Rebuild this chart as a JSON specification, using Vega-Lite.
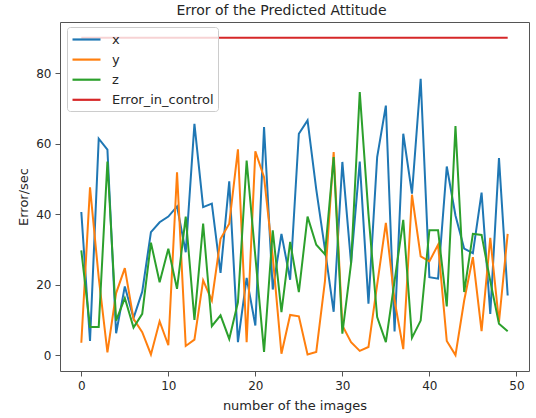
{
 "$schema": "https://vega.github.io/schema/vega-lite/v6.json",
 "width": 469,
 "height": 349,
 "autosize": {"type": "none"},
 "padding": {"left": 60, "top": 22, "right": 7, "bottom": 47},
 "background": "white",
 "title": {"text": "Error of the Predicted Attitude", "fontSize": 14, "font": "DejaVu Sans", "fontWeight": "normal", "color": "#262626", "anchor": "middle", "frame": "group", "dx": -13, "dy": 12.5, "baseline": "alphabetic", "offset": 6},
 "data": {"values": [
  {"i": 0, "x": 40.6, "y": 3.5, "z": 29.7, "Error_in_control": 90},
  {"i": 1, "x": 4.0, "y": 47.6, "z": 8.0, "Error_in_control": 90},
  {"i": 2, "x": 61.4, "y": 22, "z": 8.0, "Error_in_control": 90},
  {"i": 3, "x": 58.3, "y": 0.8, "z": 54.9, "Error_in_control": 90},
  {"i": 4, "x": 6.2, "y": 17.6, "z": 9.8, "Error_in_control": 90},
  {"i": 5, "x": 19.5, "y": 24.7, "z": 16.2, "Error_in_control": 90},
  {"i": 6, "x": 10.5, "y": 10.3, "z": 7.8, "Error_in_control": 90},
  {"i": 7, "x": 18.0, "y": 6.5, "z": 11.7, "Error_in_control": 90},
  {"i": 8, "x": 34.9, "y": 0.2, "z": 31.9, "Error_in_control": 90},
  {"i": 9, "x": 37.7, "y": 9.6, "z": 20.7, "Error_in_control": 90},
  {"i": 10, "x": 39.3, "y": 2.8, "z": 30.2, "Error_in_control": 90},
  {"i": 11, "x": 42.2, "y": 51.9, "z": 18.8, "Error_in_control": 90},
  {"i": 12, "x": 29.2, "y": 2.6, "z": 39.3, "Error_in_control": 90},
  {"i": 13, "x": 65.6, "y": 4.4, "z": 10.0, "Error_in_control": 90},
  {"i": 14, "x": 42.0, "y": 21.2, "z": 37.3, "Error_in_control": 90},
  {"i": 15, "x": 43.0, "y": 15.5, "z": 8.2, "Error_in_control": 90},
  {"i": 16, "x": 23.3, "y": 33.0, "z": 11.3, "Error_in_control": 90},
  {"i": 17, "x": 49.3, "y": 37.3, "z": 4.6, "Error_in_control": 90},
  {"i": 18, "x": 3.7, "y": 58.4, "z": 15.0, "Error_in_control": 90},
  {"i": 19, "x": 21.9, "y": 3.7, "z": 55.2, "Error_in_control": 90},
  {"i": 20, "x": 8.4, "y": 57.8, "z": 28, "Error_in_control": 90},
  {"i": 21, "x": 64.7, "y": 50.5, "z": 0.9, "Error_in_control": 90},
  {"i": 22, "x": 18.6, "y": 28, "z": 35.4, "Error_in_control": 90},
  {"i": 23, "x": 34.4, "y": 0.4, "z": 12.2, "Error_in_control": 90},
  {"i": 24, "x": 21.4, "y": 11.4, "z": 32.1, "Error_in_control": 90},
  {"i": 25, "x": 62.8, "y": 11.0, "z": 17.9, "Error_in_control": 90},
  {"i": 26, "x": 66.6, "y": 0.2, "z": 39.3, "Error_in_control": 90},
  {"i": 27, "x": 47, "y": 0.9, "z": 31.3, "Error_in_control": 90},
  {"i": 28, "x": 30, "y": 21, "z": 28.6, "Error_in_control": 90},
  {"i": 29, "x": 12.3, "y": 57.6, "z": 56.2, "Error_in_control": 90},
  {"i": 30, "x": 54.8, "y": 8.4, "z": 6.1, "Error_in_control": 90},
  {"i": 31, "x": 26.1, "y": 3.7, "z": 26, "Error_in_control": 90},
  {"i": 32, "x": 54.9, "y": 1.2, "z": 74.6, "Error_in_control": 90},
  {"i": 33, "x": 14.6, "y": 2.3, "z": 40, "Error_in_control": 90},
  {"i": 34, "x": 56.2, "y": 20, "z": 10.8, "Error_in_control": 90},
  {"i": 35, "x": 70.8, "y": 37.5, "z": 3.7, "Error_in_control": 90},
  {"i": 36, "x": 6.7, "y": 15.5, "z": 21, "Error_in_control": 90},
  {"i": 37, "x": 62.8, "y": 1.7, "z": 38.4, "Error_in_control": 90},
  {"i": 38, "x": 45.8, "y": 45.5, "z": 4.9, "Error_in_control": 90},
  {"i": 39, "x": 78.4, "y": 28.0, "z": 9.8, "Error_in_control": 90},
  {"i": 40, "x": 22.1, "y": 26.6, "z": 35.4, "Error_in_control": 90},
  {"i": 41, "x": 21.7, "y": 31.3, "z": 35.4, "Error_in_control": 90},
  {"i": 42, "x": 53.5, "y": 4.0, "z": 13.8, "Error_in_control": 90},
  {"i": 43, "x": 39.6, "y": 0.0, "z": 65.0, "Error_in_control": 90},
  {"i": 44, "x": 30.2, "y": 15.5, "z": 17.9, "Error_in_control": 90},
  {"i": 45, "x": 28.9, "y": 27.8, "z": 34.4, "Error_in_control": 90},
  {"i": 46, "x": 46.1, "y": 6.8, "z": 34.1, "Error_in_control": 90},
  {"i": 47, "x": 11.7, "y": 33.3, "z": 21, "Error_in_control": 90},
  {"i": 48, "x": 55.9, "y": 9.4, "z": 8.9, "Error_in_control": 90},
  {"i": 49, "x": 16.9, "y": 34.4, "z": 6.8, "Error_in_control": 90}
 ]},
 "transform": [{"fold": ["x", "y", "z", "Error_in_control"], "as": ["series", "value"]}],
 "encoding": {
  "x": {"field": "i", "type": "quantitative",
        "scale": {"domain": [-2.45, 51.45], "nice": false, "zero": false},
        "axis": {"values": [0, 10, 20, 30, 40, 50], "title": "number of the images", "titleX": 234.5, "titleY": 28, "titleBaseline": "top", "titleAnchor": "middle"}},
  "y": {"field": "value", "type": "quantitative",
        "scale": {"domain": [-4.5, 94.5], "nice": false, "zero": false},
        "axis": {"values": [0, 20, 40, 60, 80], "title": "Error/sec", "titleX": -32.5, "titleY": 174.5, "titleAngle": -90, "titleBaseline": "alphabetic", "titleAlign": "center"}},
  "color": {"field": "series", "type": "nominal",
        "scale": {"domain": ["x", "y", "z", "Error_in_control"], "range": ["#1f77b4", "#ff7f0e", "#2ca02c", "#d62728"]},
        "legend": {"orient": "none", "legendX": 7, "legendY": 5, "title": null, "symbolType": "M-2,0H2", "symbolSize": 196, "symbolStrokeWidth": 2.2, "symbolOffset": 7, "labelFontSize": 13, "labelFont": "DejaVu Sans", "labelColor": "#262626", "padding": 4, "rowPadding": 4.1, "fillColor": "rgba(255,255,255,0.8)", "strokeColor": "#cccccc", "cornerRadius": 3, "labelOffset": 17, "offset": 0}}
 },
 "layer": [
  {"transform": [{"filter": "datum.series === 'x'"}], "mark": {"type": "line", "strokeWidth": 2}},
  {"transform": [{"filter": "datum.series === 'y'"}], "mark": {"type": "line", "strokeWidth": 2}},
  {"transform": [{"filter": "datum.series === 'z'"}], "mark": {"type": "line", "strokeWidth": 2}},
  {"transform": [{"filter": "datum.series === 'Error_in_control'"}], "mark": {"type": "line", "strokeWidth": 2}}
 ],
 "config": {
  "view": {"stroke": "#555555", "strokeWidth": 1},
  "axis": {"domain": false, "grid": false, "tickColor": "#555555", "tickSize": 5, "labelFontSize": 12, "labelFont": "DejaVu Sans", "labelColor": "#262626", "titleFontSize": 13, "titleFont": "DejaVu Sans", "titleFontWeight": "normal", "titleColor": "#262626", "labelPadding": 4}
 }
}
